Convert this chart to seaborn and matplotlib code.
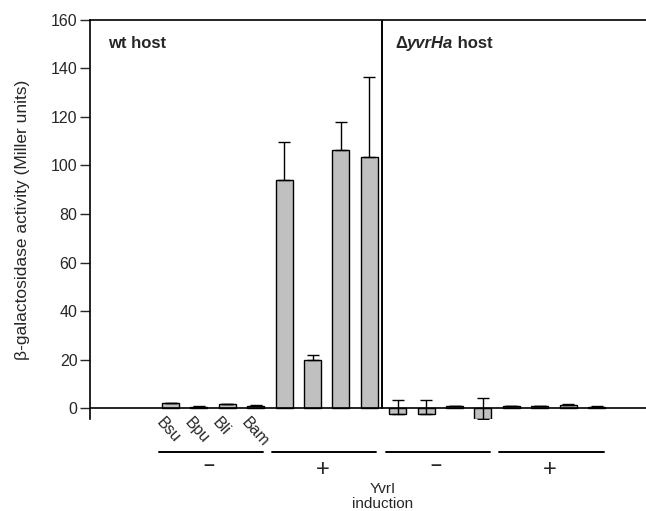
import numpy as np
import pandas as pd
import seaborn as sns
import matplotlib.pyplot as plt

# bar data: 4 strains, uninduced / induced, wt host then delta-yvrHa host
strains = ['Bsu', 'Bpu', 'Bli', 'Bam']
groups = ['wt -', 'wt +', 'dyvrHa -', 'dyvrHa +']
wt_minus = [1.9, 0.6, 1.5, 1.0]
wt_plus = [94.0, 19.7, 106.4, 103.4]
ko_minus = [-2.6, -2.5, 0.8, -4.5]
ko_plus = [0.8, 0.8, 1.2, 0.6]
err_wt_minus = [0.3, 0.1, 0.3, 0.2]
err_wt_plus = [15.8, 2.3, 11.4, 33.1]
err_ko_minus = [5.9, 5.8, 0.1, 8.7]
err_ko_plus = [0.1, 0.1, 0.3, 0.1]
induction = ['-', '+', '-', '+']

values = wt_minus + wt_plus + ko_minus + ko_plus
errors = err_wt_minus + err_wt_plus + err_ko_minus + err_ko_plus
df = pd.DataFrame({
    'bar': [f'{g} {s}' for g in groups for s in strains],
    'activity': values,
})

sns.set_style('white')
plt.rcParams['font.family'] = ['Liberation Sans', 'DejaVu Sans']

fig = plt.figure(figsize=(6.46, 5.11), dpi=100)
ax = fig.add_axes([0.1393, 0.1797, 0.8607, 0.7812])

sns.barplot(data=df, x='bar', y='activity', color='#c0c0c0', edgecolor='black',
            linewidth=1, width=0.6, saturation=1, ax=ax)
pos = np.arange(len(values))
ax.errorbar(pos, values, yerr=[np.zeros(len(errors)), errors], fmt='none',
            ecolor='black', elinewidth=1, capsize=4.5, capthick=1, zorder=3)

ax.set_xlim(-2.835, 16.74)
ax.set_ylim(-4.6, 160)
ax.set_yticks(range(0, 161, 20))
ax.tick_params(axis='y', direction='out', length=7, width=1, labelsize=11.5, left=True, pad=2)
ax.set_xticks([])
ax.set_xlabel('')
ax.set_ylabel('β-galactosidase activity (Miller units)', fontsize=12.5)
ax.yaxis.set_label_coords(-0.108, 0.5)

for side in ['left', 'top']:
    ax.spines[side].set_linewidth(1.2)
    ax.spines[side].set_color('black')
ax.spines['right'].set_visible(False)
ax.spines['bottom'].set_visible(False)
ax.axhline(0, color='black', lw=1.2, zorder=4)
ax.plot([7.45, 7.45], [0, 160], color='black', lw=1.4, zorder=4)

# panel titles
ax.text(-2.21, 150.5, 'wt host', fontsize=12, fontweight='bold', va='center')
t1 = ax.text(7.9, 150.5, 'Δ', fontsize=12, fontweight='bold', va='center')
t2 = ax.annotate('yvrHa', xy=(1, 0), xycoords=t1, fontsize=12, fontweight='bold',
                 style='italic', va='bottom')
ax.annotate(' host', xy=(1, 0), xycoords=t2, fontsize=12, fontweight='bold', va='bottom')

# strain labels under the first group
for i, s in enumerate(strains):
    ax.text(i - 0.22, -2.8, s, rotation=-48, rotation_mode='anchor', ha='left',
            va='top', fontsize=11.5, clip_on=False)

# induction brackets
for g, sign in enumerate(induction):
    x0 = g * 4
    ax.plot([x0 - 0.42, x0 + 3.25], [-18.1, -18.1], color='black', lw=1.4, clip_on=False)
    if sign == '-':
        ax.text(x0 + 1.35, -23.5, '–', ha='center', va='center', fontsize=14,
                fontweight='bold', clip_on=False)
    else:
        ax.text(x0 + 1.35, -25.5, '+', ha='center', va='center', fontsize=17,
                clip_on=False)
ax.text(7.48, -36.5, 'YvrI\ninduction', ha='center', va='center', fontsize=11,
        linespacing=1.05, clip_on=False)

fig.savefig('out.png', dpi=100)
